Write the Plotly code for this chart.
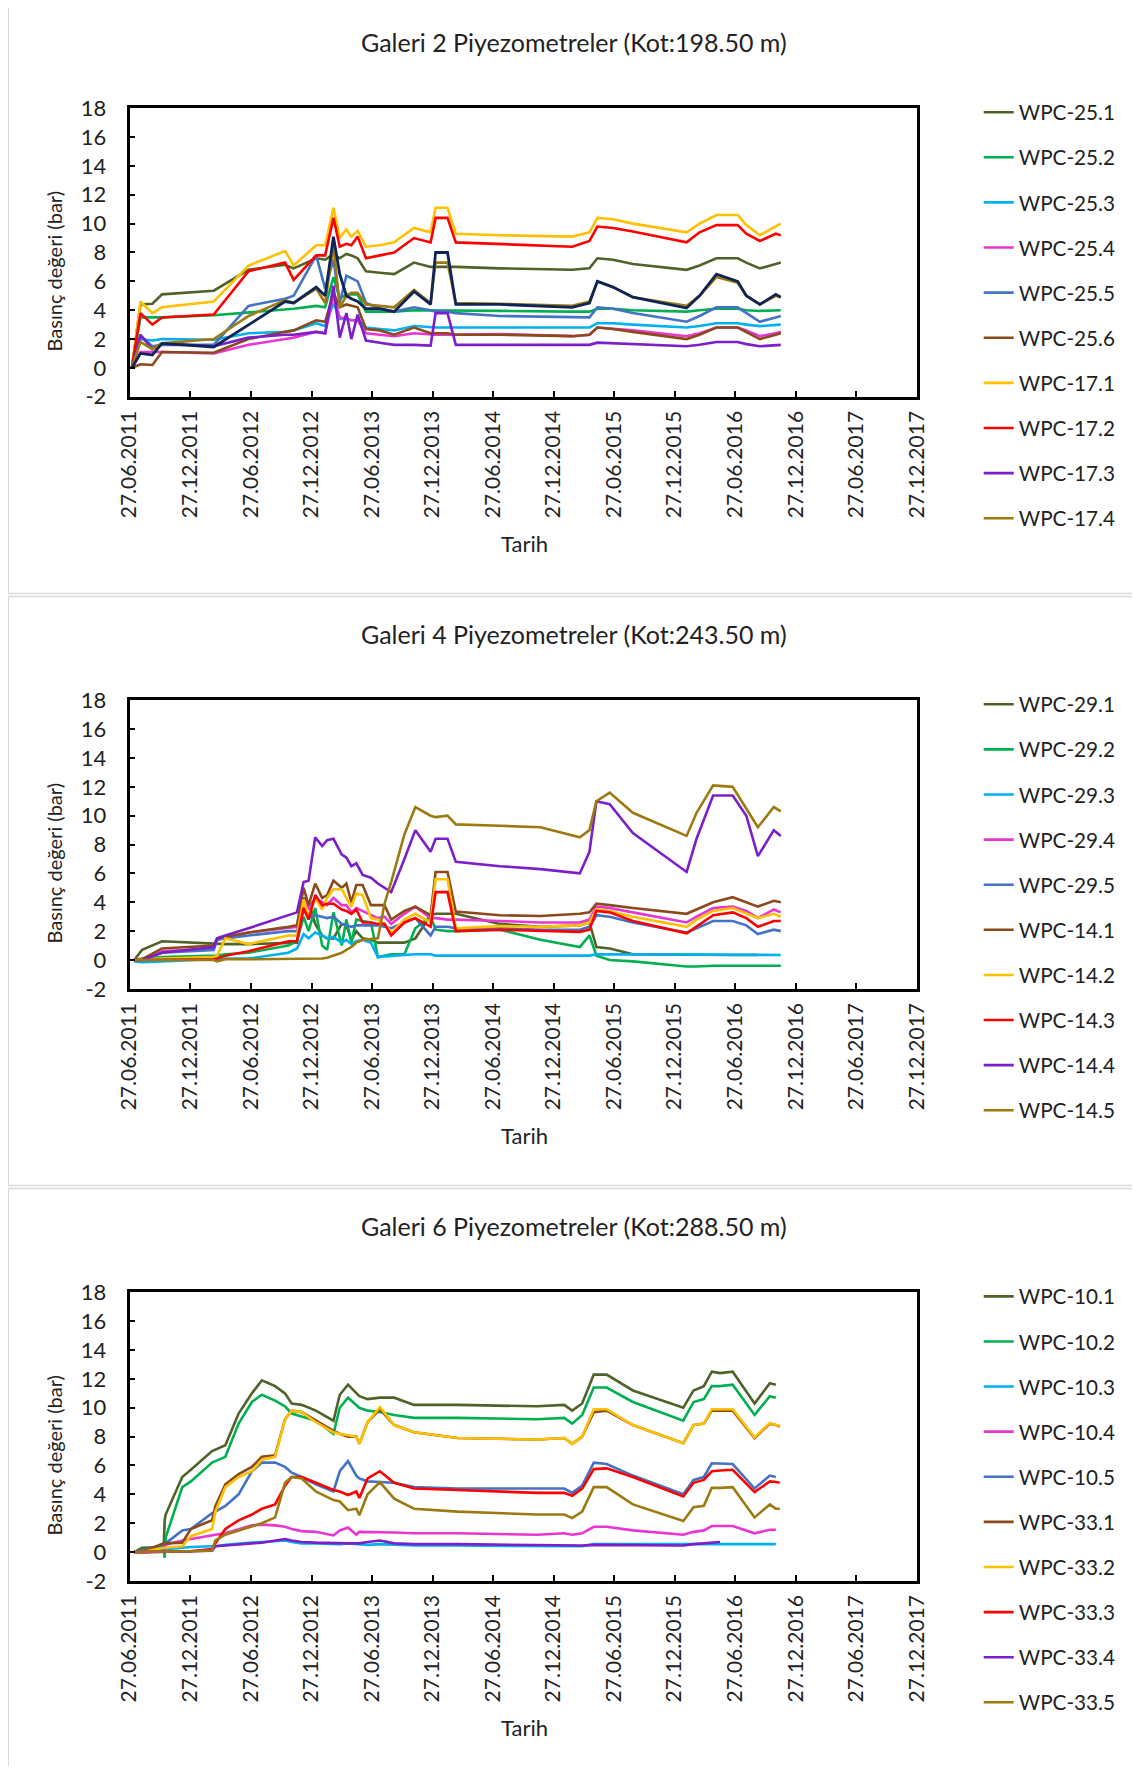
import plotly.graph_objects as go

# ---------------- data ----------------
TICK_DATES = ["2011-06-27", "2011-12-27", "2012-06-27", "2012-12-27", "2013-06-27", "2013-12-27",
              "2014-06-27", "2014-12-27", "2015-06-27", "2015-12-27", "2016-06-27", "2016-12-27",
              "2017-06-27", "2017-12-27"]
TICK_TEXT = ["27.06.2011", "27.12.2011", "27.06.2012", "27.12.2012", "27.06.2013", "27.12.2013",
             "27.06.2014", "27.12.2014", "27.06.2015", "27.12.2015", "27.06.2016", "27.12.2016",
             "27.06.2017", "27.12.2017"]
Y_TICKS = [-2, 0, 2, 4, 6, 8, 10, 12, 14, 16, 18]
Y_TICK_TEXT = ["-2", "0", "2", "4", "6", "8", "10", "12", "14", "16", "18"]

# Galeri 2
G2_DATES = ["2011-07-04", "2011-07-30", "2011-09-04", "2011-10-03", "2012-03-07", "2012-06-20",
            "2012-10-08", "2012-11-03", "2013-01-10", "2013-02-06", "2013-03-03", "2013-03-22",
            "2013-04-11", "2013-04-26", "2013-05-15", "2013-06-09", "2013-07-21", "2013-09-02",
            "2013-11-01", "2013-12-21", "2014-01-05", "2014-02-10", "2014-03-07", "2014-07-18",
            "2015-02-21", "2015-04-14", "2015-05-08", "2015-06-24", "2015-08-23", "2016-02-01",
            "2016-03-11", "2016-05-01", "2016-07-04", "2016-07-30", "2016-09-09", "2016-10-27",
            "2016-11-11"]
WPC_25_1 = [0, 4.4, 4.45, 5.1, 5.35, 6.8, 7.15, 6.9, 7.6, 7.5, 7.9, 7.6, 7.9, 7.8, 7.6, 6.7, 6.6, 6.5, 7.3,
            7.0, 7.0, 7.0, 7.0, 6.9, 6.8, 6.9, 7.6, 7.5, 7.2, 6.8, 7.1, 7.6, 7.6, 7.3, 6.9, 7.2, 7.3]
WPC_25_2 = [0, 3.5, 3.5, 3.5, 3.65, 3.85, 4.1, 4.1, 4.3, 4.2, 6.3, 4.8, 5.1, 5.1, 5.1, 3.9, 3.9, 3.9, 4.0,
            4.0, 4.0, 4.0, 4.0, 3.95, 3.9, 3.9, 4.1, 4.1, 4.0, 3.9, 4.0, 4.1, 4.1, 4.0, 3.95, 4.0, 4.0]
WPC_25_3 = [0, 2.0, 1.9, 2.0, 1.95, 2.4, 2.5, 2.6, 3.1, 2.9, 4.5, 3.4, 3.4, 3.3, 3.3, 2.8, 2.7, 2.6, 2.9,
            2.8, 2.8, 2.8, 2.8, 2.85, 2.8, 2.8, 3.1, 3.1, 3.0, 2.8, 2.9, 3.1, 3.1, 3.0, 2.9, 3.0, 3.0]
WPC_25_4 = [0, 1.1, 1.1, 1.1, 1.0, 1.6, 2.0, 2.1, 2.5, 2.4, 5.0, 3.5, 3.4, 3.3, 3.3, 2.4, 2.3, 2.2, 2.4,
            2.3, 2.3, 2.3, 2.3, 2.35, 2.2, 2.3, 2.8, 2.7, 2.6, 2.2, 2.4, 2.8, 2.8, 2.6, 2.2, 2.4, 2.5]
WPC_25_5 = [0, 2.2, 1.5, 1.6, 1.6, 4.3, 4.8, 5.0, 7.8, 5.5, 7.5, 4.5, 6.4, 6.2, 6.0, 4.5, 4.1, 3.9, 4.2,
            4.0, 3.9, 3.9, 3.8, 3.6, 3.5, 3.5, 4.2, 4.1, 3.8, 3.2, 3.6, 4.2, 4.2, 3.8, 3.2, 3.5, 3.6]
WPC_25_6 = [0, 0.25, 0.2, 1.1, 1.05, 2.0, 2.5, 2.6, 3.3, 3.2, 5.2, 4.2, 4.4, 4.3, 4.2, 2.7, 2.6, 2.3, 2.8,
            2.4, 2.4, 2.4, 2.3, 2.3, 2.2, 2.3, 2.8, 2.7, 2.5, 2.0, 2.3, 2.8, 2.8, 2.5, 2.0, 2.3, 2.4]
WPC_17_1 = [0, 4.6, 3.8, 4.2, 4.6, 7.1, 8.1, 7.1, 8.5, 8.5, 11.1, 9.0, 9.6, 9.1, 9.5, 8.4, 8.5, 8.7, 9.7,
            9.4, 11.1, 11.1, 9.3, 9.2, 9.1, 9.4, 10.4, 10.3, 10.0, 9.4, 10.0, 10.6, 10.6, 9.9, 9.2, 9.8, 10.0]
WPC_17_2 = [0, 3.8, 3.0, 3.5, 3.7, 6.7, 7.3, 6.1, 7.8, 7.8, 10.4, 8.4, 8.6, 8.5, 9.1, 7.6, 7.8, 8.0, 9.0,
            8.7, 10.4, 10.4, 8.7, 8.6, 8.4, 8.8, 9.8, 9.7, 9.45, 8.7, 9.4, 9.9, 9.9, 9.3, 8.8, 9.3, 9.2]
WPC_17_3 = [0, 2.3, 1.3, 1.7, 1.5, 2.1, 2.3, 2.3, 2.5, 2.4, 5.7, 2.1, 3.8, 2.0, 3.7, 1.9, 1.75, 1.6, 1.6,
            1.55, 3.8, 3.8, 1.6, 1.6, 1.55, 1.6, 1.75, 1.7, 1.65, 1.5, 1.6, 1.8, 1.8, 1.65, 1.5, 1.6, 1.6]
WPC_17_4 = [0, 1.8, 1.3, 1.7, 2.0, 3.6, 4.7, 4.5, 5.5, 4.5, 8.5, 4.2, 5.0, 5.2, 5.2, 4.4, 4.3, 4.2, 5.4,
            4.5, 7.3, 7.3, 4.5, 4.45, 4.3, 4.6, 6.0, 5.6, 4.9, 4.3, 5.0, 6.3, 5.9, 5.0, 4.4, 5.0, 4.9]
G2_UNLABELED = [0, 1.0, 0.9, 1.7, 1.45, 3.0, 4.6, 4.5, 5.6, 5.0, 9.1, 6.5, 5.0, 4.8, 4.6, 4.1, 4.1, 3.9, 5.3,
                4.4, 8.0, 8.0, 4.4, 4.4, 4.2, 4.5, 6.0, 5.6, 4.9, 4.15, 5.0, 6.5, 6.0, 5.0, 4.4, 5.1, 4.9]

# Galeri 4
G4_DATES = ["2011-07-11", "2011-08-04", "2011-10-03", "2012-03-07", "2012-03-17", "2012-04-11",
            "2012-06-20", "2012-10-18", "2012-11-13", "2012-12-03", "2012-12-18", "2013-01-07",
            "2013-01-28", "2013-02-12", "2013-03-03", "2013-03-28", "2013-04-11", "2013-04-26",
            "2013-05-11", "2013-05-30", "2013-06-24", "2013-07-15", "2013-08-04", "2013-08-24",
            "2013-10-03", "2013-11-05", "2013-12-21", "2014-01-05", "2014-02-10", "2014-03-07",
            "2014-07-18", "2014-11-17", "2015-03-16", "2015-04-14", "2015-05-05", "2015-06-14",
            "2015-08-23", "2016-02-01", "2016-03-02", "2016-04-21", "2016-06-19", "2016-07-30",
            "2016-09-03", "2016-10-21", "2016-11-11"]
WPC_29_1 = [0, 0.7, 1.3, 1.1, 1.1, 1.1, 1.1, 1.2, 1.2, 4.3, 4.0, 2.5, 1.7, 1.5, 1.5, 2.5, 2.4, 1.4, 2.0,
            1.5, 1.4, 1.2, 1.2, 1.2, 1.2, 1.5, 3.1, 3.2, 3.2, 3.2, 2.5, 2.3, 2.4, 2.6, 0.9, 0.8, 0.4,
            0.35, 0.35, 0.35, 0.35, 0.35, 0.35, None, None]
WPC_29_2 = [0, 0.1, 0.2, 0.3, 0.3, 0.4, 0.5, 1.0, 1.3, 3.0, 2.0, 3.6, 1.0, 0.7, 3.3, 1.0, 2.8, 1.2, 2.8,
            2.7, 2.6, 0.2, 0.3, 0.4, 0.4, 2.2, 3.0, 2.1, 2.0, 2.0, 2.1, 1.4, 0.9, 1.7, 0.3, 0.0, -0.1,
            -0.45, -0.45, -0.4, -0.4, -0.4, -0.4, -0.4, -0.4]
WPC_29_3 = [-0.1, -0.15, -0.1, 0.1, 0.1, 0.1, 0.1, 0.5, 0.8, 1.8, 1.5, 1.9, 1.7, 1.5, 1.6, 1.2, 1.4, 1.1,
            1.3, 1.4, 1.2, 0.2, 0.25, 0.3, 0.35, 0.4, 0.4, 0.3, 0.3, 0.3, 0.3, 0.3, 0.3, 0.3, 0.4, 0.4,
            0.35, 0.35, 0.35, 0.35, 0.35, 0.35, 0.35, 0.35, 0.35]
WPC_29_4 = [0, 0.05, 0.6, 0.8, 1.4, 1.5, 1.9, 2.2, 2.3, 4.2, 3.6, 4.3, 4.0, 3.8, 4.3, 3.8, 3.8, 3.3, 3.6,
            3.4, 3.1, 2.9, 3.0, 2.5, 3.2, 3.7, 2.9, 2.9, 2.8, 2.8, 2.7, 2.6, 2.6, 2.8, 3.7, 3.6, 3.3,
            2.6, 3.0, 3.6, 3.7, 3.4, 2.9, 3.5, 3.3]
WPC_29_5 = [0, 0.05, 0.5, 0.7, 1.4, 1.5, 1.7, 2.0, 2.0, 3.5, 2.9, 3.1, 3.0, 2.9, 3.0, 2.5, 2.4, 2.3, 2.4,
            2.4, 2.4, 2.4, 2.3, 2.2, 2.6, 2.9, 1.7, 2.3, 2.3, 2.2, 2.2, 2.1, 2.1, 2.3, 3.1, 3.0, 2.6,
            1.9, 2.2, 2.7, 2.7, 2.4, 1.8, 2.1, 2.0]
WPC_14_1 = [0, 0.05, 0.8, 1.0, 1.5, 1.6, 1.9, 2.3, 2.4, 5.0, 3.8, 5.3, 4.3, 4.5, 5.5, 5.0, 5.3, 4.0, 5.2,
            5.2, 3.8, 3.8, 3.8, 2.8, 3.4, 3.7, 3.1, 6.1, 6.1, 3.35, 3.1, 3.05, 3.2, 3.3, 3.9, 3.8, 3.6,
            3.2, 3.5, 4.0, 4.35, 4.0, 3.7, 4.1, 4.0]
WPC_14_2 = [0, 0.05, 0.1, 0.2, 0.3, 1.5, 1.1, 1.7, 1.7, 4.2, 3.0, 4.3, 3.5, 4.3, 4.9, 4.9, 4.3, 3.7, 4.6,
            4.5, 2.9, 2.8, 2.5, 1.9, 2.8, 3.2, 2.6, 5.6, 5.6, 2.2, 2.35, 2.3, 2.4, 2.6, 3.5, 3.4, 3.0,
            2.3, 2.8, 3.4, 3.6, 3.2, 2.9, 3.2, 3.0]
WPC_14_3 = [0, 0.0, 0.0, 0.05, 0.1, 0.3, 0.6, 1.3, 1.3, 3.6, 2.8, 4.5, 3.8, 3.9, 3.9, 3.5, 3.4, 3.2, 3.5,
            2.6, 2.6, 2.5, 2.5, 1.7, 2.6, 2.9, 2.3, 4.7, 4.7, 2.0, 2.1, 2.0, 1.95, 2.1, 3.4, 3.3, 2.7,
            1.85, 2.3, 3.1, 3.3, 2.9, 2.3, 2.7, 2.7]
WPC_14_4 = [0, 0.0, 0.5, 0.9, 1.5, 1.7, 2.2, 3.1, 3.3, 5.4, 5.5, 8.5, 7.9, 8.3, 8.4, 7.3, 7.1, 6.5, 6.7,
            5.9, 5.7, 5.3, 5.0, 4.7, 7.0, 9.0, 7.5, 8.4, 8.4, 6.8, 6.5, 6.3, 6.0, 7.5, 11.0, 10.8, 8.8,
            6.1, 8.4, 11.4, 11.4, 10.0, 7.2, 9.0, 8.6]
WPC_14_5 = [0, 0, 0, 0, -0.1, 0.05, 0.05, 0.05, 0.05, 0.05, 0.05, 0.05, 0.1, 0.15, 0.3, 0.5, 0.7, 0.9, 1.2,
            1.4, 1.45, 1.5, 3.9, 5.4, 8.7, 10.6, 10.0, 9.9, 10.0, 9.4, 9.3, 9.2, 8.5, 9.0, 11.0, 11.6,
            10.2, 8.6, 10.2, 12.1, 12.0, 10.5, 9.2, 10.6, 10.3]

# Galeri 6
G6_DATES = ["2011-07-11", "2011-08-04", "2011-10-08", "2011-10-11", "2011-10-14", "2011-12-03",
            "2011-12-29", "2012-03-02", "2012-03-12", "2012-04-11", "2012-05-21", "2012-06-30",
            "2012-07-30", "2012-09-08", "2012-10-08", "2012-10-28", "2012-11-27", "2013-01-09",
            "2013-03-03", "2013-03-22", "2013-04-16", "2013-05-11", "2013-05-20", "2013-06-14",
            "2013-07-21", "2013-09-02", "2013-11-01", "2014-03-12", "2014-11-08", "2015-01-28",
            "2015-02-21", "2015-03-23", "2015-04-27", "2015-06-05", "2015-08-23", "2016-01-22",
            "2016-02-22", "2016-03-24", "2016-04-17", "2016-05-12", "2016-06-19", "2016-08-24",
            "2016-10-09", "2016-10-27", "2016-11-08"]
WPC_10_1 = [0, 0.3, 0.35, 2.2, 2.6, 5.2, 5.7, 7.0, 7.1, 7.4, 9.6, 11.0, 11.9, 11.5, 11.0, 10.3, 10.2, 9.8,
            9.1, 10.9, 11.6, 11.0, 10.8, 10.6, 10.7, 10.7, 10.2, 10.2, 10.1, 10.2, 9.8, 10.3, 12.3, 12.3,
            11.2, 10.0, 11.2, 11.5, 12.5, 12.4, 12.5, 10.3, 11.7, 11.6, None]
WPC_10_2 = [0, 0.1, 0.3, -0.4, 1.0, 4.5, 4.9, 6.2, 6.3, 6.6, 8.9, 10.4, 10.9, 10.5, 10.1, 9.6, 9.4, 9.1,
            8.2, 10.0, 10.7, 10.2, 10.0, 9.8, 9.7, 9.5, 9.3, 9.3, 9.2, 9.3, 8.9, 9.5, 11.4, 11.4, 10.4,
            9.1, 10.4, 10.6, 11.5, 11.5, 11.6, 9.5, 10.8, 10.7, None]
WPC_10_3 = [0, 0.1, 0.2, 0.2, 0.2, 0.3, 0.35, 0.4, 0.4, 0.5, 0.55, 0.65, 0.7, 0.75, 0.8, 0.7, 0.6, 0.6,
            0.55, 0.55, 0.6, 0.55, 0.55, 0.5, 0.55, 0.5, 0.45, 0.45, 0.4, 0.4, 0.4, 0.4, 0.55, 0.55, 0.55,
            0.5, 0.5, 0.5, 0.55, 0.55, 0.55, 0.5, 0.55, 0.55, None]
WPC_10_4 = [0, -0.05, 0.0, 0.0, 0.5, 0.8, 0.9, 1.2, 1.2, 1.3, 1.6, 1.85, 1.9, 1.85, 1.75, 1.6, 1.45, 1.4,
            1.15, 1.5, 1.7, 1.2, 1.4, 1.4, 1.35, 1.35, 1.3, 1.3, 1.2, 1.3, 1.2, 1.3, 1.75, 1.75, 1.5,
            1.2, 1.4, 1.5, 1.8, 1.8, 1.8, 1.3, 1.55, 1.55, None]
WPC_10_5 = [0, 0.1, 0.5, 0.6, 0.6, 1.5, 1.6, 2.7, 2.8, 3.2, 4.0, 5.6, 6.2, 6.2, 5.9, 5.5, 5.2, 4.7,
            4.2, 5.6, 6.3, 5.3, 5.1, 4.9, 4.85, 4.8, 4.5, 4.4, 4.4, 4.4, 4.1, 4.6, 6.2, 6.1, 5.3,
            4.0, 5.0, 5.2, 6.15, 6.15, 6.1, 4.4, 5.3, 5.2, None]
WPC_33_1 = [0, 0.0, 0.6, 0.6, 0.6, 0.65, 1.6, 2.2, 3.2, 4.7, 5.4, 5.9, 6.6, 6.7, 9.2, 9.8, 9.7, 9.1,
            8.4, 8.2, 8.0, 8.0, 7.5, 9.0, 9.9, 8.8, 8.3, 7.9, 7.8, 7.9, 7.5, 8.0, 9.7, 9.8, 8.8,
            7.55, 8.8, 8.9, 9.8, 9.8, 9.8, 7.9, 8.9, 8.8, 8.7]
WPC_33_2 = [0, 0.0, 0.3, 0.3, 0.3, 0.4, 1.1, 1.6, 2.8, 4.5, 5.2, 5.6, 6.4, 6.6, 9.2, 9.8, 9.7, 9.0,
            8.3, 8.2, 8.1, 8.0, 7.5, 9.0, 10.05, 8.8, 8.3, 7.9, 7.8, 7.9, 7.5, 8.0, 9.9, 9.9, 8.8,
            7.55, 8.8, 8.9, 9.9, 9.9, 9.9, 7.95, 8.95, 8.8, 8.75]
WPC_33_3 = [0, 0.0, 0.0, 0.0, 0.0, 0.05, 0.05, 0.2, 0.6, 1.6, 2.2, 2.6, 3.0, 3.3, 4.6, 5.2, 5.2, 4.8,
            4.3, 4.2, 3.95, 4.2, 3.75, 5.1, 5.6, 4.8, 4.4, 4.3, 4.1, 4.1, 3.9, 4.4, 5.75, 5.8, 5.2,
            3.85, 4.8, 5.0, 5.6, 5.65, 5.7, 4.15, 4.9, 4.85, 4.8]
WPC_33_4 = [0, 0.0, 0.0, 0.0, 0.0, 0.05, 0.05, 0.1, 0.4, 0.45, 0.5, 0.6, 0.65, 0.8, 0.9, 0.8, 0.7, 0.65,
            0.6, 0.6, 0.6, 0.6, 0.6, 0.7, 0.8, 0.6, 0.55, 0.55, 0.5, 0.45, 0.45, 0.45, 0.5, 0.5, 0.5,
            0.45, 0.55, 0.6, 0.65, 0.7, None, None, None, None, None]
WPC_33_5 = [0, 0.0, 0.0, 0.0, 0.0, 0.05, 0.05, 0.1, 0.8, 1.2, 1.5, 1.8, 2.0, 2.4, 4.8, 5.2, 5.1, 4.2,
            3.6, 3.5, 2.9, 3.0, 2.55, 4.0, 4.85, 3.7, 3.0, 2.8, 2.6, 2.6, 2.35, 2.8, 4.5, 4.5, 3.3,
            2.15, 3.1, 3.2, 4.45, 4.45, 4.5, 2.4, 3.3, 3.0, 3.0]

# ---------------- styling ----------------
COLORS = ["#4F6228", "#00B050", "#00B0F0", "#E936D2", "#4472C4",
          "#8C4A1C", "#FFC000", "#FF0000", "#7A1FC9", "#9C7A10"]
NAVY = "#0F2557"
FONT = "Lato, sans-serif"
TXT = "#222222"
PAGE_W, PAGE_H = 1140, 1774
BODY_MARGIN = 8                       # default page margin around the figure
W, H = PAGE_W - 2 * BODY_MARGIN, PAGE_H - 2 * BODY_MARGIN
# observed mapping of the photographed page (photo = offset + scale * page)
SX, SY, OX, OY = 0.9833, 0.9862, 11.0, 10.75


def fx(rx):
    # target picture pixel -> paper coordinate
    page = (rx - OX) / SX
    return (page - BODY_MARGIN) / W


def fy(ry):
    page = (ry - OY) / SY
    return 1 - (page - BODY_MARGIN) / H


panels = [
    dict(title="Galeri 2 Piyezometreler (Kot:198.50 m)", dates=G2_DATES,
         names=["WPC-25.1", "WPC-25.2", "WPC-25.3", "WPC-25.4", "WPC-25.5",
                "WPC-25.6", "WPC-17.1", "WPC-17.2", "WPC-17.3", "WPC-17.4"],
         values=[WPC_25_1, WPC_25_2, WPC_25_3, WPC_25_4, WPC_25_5,
                 WPC_25_6, WPC_17_1, WPC_17_2, WPC_17_3, WPC_17_4],
         extra=G2_UNLABELED, off=0),
    dict(title="Galeri 4 Piyezometreler (Kot:243.50 m)", dates=G4_DATES,
         names=["WPC-29.1", "WPC-29.2", "WPC-29.3", "WPC-29.4", "WPC-29.5",
                "WPC-14.1", "WPC-14.2", "WPC-14.3", "WPC-14.4", "WPC-14.5"],
         values=[WPC_29_1, WPC_29_2, WPC_29_3, WPC_29_4, WPC_29_5,
                 WPC_14_1, WPC_14_2, WPC_14_3, WPC_14_4, WPC_14_5],
         extra=None, off=593),
    dict(title="Galeri 6 Piyezometreler (Kot:288.50 m)", dates=G6_DATES,
         names=["WPC-10.1", "WPC-10.2", "WPC-10.3", "WPC-10.4", "WPC-10.5",
                "WPC-33.1", "WPC-33.2", "WPC-33.3", "WPC-33.4", "WPC-33.5"],
         values=[WPC_10_1, WPC_10_2, WPC_10_3, WPC_10_4, WPC_10_5,
                 WPC_33_1, WPC_33_2, WPC_33_3, WPC_33_4, WPC_33_5],
         extra=None, off=1186),
]

fig = go.Figure()
layout = dict(width=W, height=H, autosize=False, margin=dict(l=0, r=0, t=0, b=0, pad=0),
              paper_bgcolor="white", plot_bgcolor="white",
              font=dict(family=FONT, color=TXT), showlegend=True)
annotations = []
shapes = []
panel_rects = [(3, 591), (594, 1184), (1187, 1790)]

for i, p in enumerate(panels):
    k = "" if i == 0 else str(i + 1)
    xa, ya, lg = "x" + k, "y" + k, "legend" + k
    off = p["off"]
    for j, (name, vals) in enumerate(zip(p["names"], p["values"])):
        fig.add_trace(go.Scatter(x=p["dates"], y=vals, name=name, mode="lines",
                                 line=dict(color=COLORS[j], width=2.6),
                                 xaxis=xa, yaxis=ya, legend=lg,
                                 legendgroup=f"p{i}_{j}", connectgaps=False))
    if p["extra"] is not None:
        fig.add_trace(go.Scatter(x=p["dates"], y=p["extra"], name="", mode="lines",
                                 line=dict(color=NAVY, width=2.8), showlegend=False,
                                 xaxis=xa, yaxis=ya, legend=lg))
    top, bot = 105 + off, 394 + off
    layout["xaxis" + k] = dict(
        domain=[fx(127), fx(919)], anchor=ya, type="date",
        range=[TICK_DATES[0], TICK_DATES[-1]],
        tickmode="array", tickvals=TICK_DATES, ticktext=TICK_TEXT, tickangle=-90,
        ticks="inside", ticklen=6, tickwidth=2, tickcolor="black",
        showline=True, linecolor="black", linewidth=2.5, mirror=True,
        showgrid=False, zeroline=False, ticklabelstandoff=3,
        tickfont=dict(family=FONT, size=21, color=TXT))
    layout["yaxis" + k] = dict(
        domain=[fy(bot), fy(top)], anchor=xa, range=[-2, 18],
        tickmode="array", tickvals=Y_TICKS, ticktext=Y_TICK_TEXT,
        ticks="inside", ticklen=6, tickwidth=2, tickcolor="black",
        showline=True, linecolor="black", linewidth=2.5, mirror=True,
        showgrid=False, zeroline=False, ticklabelstandoff=16,
        tickfont=dict(family=FONT, size=22, color=TXT))
    layout[lg] = dict(x=fx(981), xanchor="left", y=fy(89 + off), yanchor="top",
                      traceorder="grouped", tracegroupgap=15.2,
                      font=dict(family=FONT, size=20.7, color=TXT),
                      bgcolor="rgba(0,0,0,0)", itemclick=False)
    annotations.append(dict(text=p["title"], x=fx(574), y=fy(38.5 + off), xref="paper", yref="paper",
                            showarrow=False, xanchor="center", yanchor="middle",
                            font=dict(family=FONT, size=25, color=TXT)))
    annotations.append(dict(text="Basınç değeri (bar)", x=fx(51.5), y=fy(268 + off), xref="paper",
                            yref="paper", showarrow=False, textangle=-90,
                            xanchor="center", yanchor="middle",
                            font=dict(family=FONT, size=20, color=TXT)))
    annotations.append(dict(text="Tarih", x=fx(524), y=fy(541 + off), xref="paper", yref="paper",
                            showarrow=False, xanchor="center", yanchor="middle",
                            font=dict(family=FONT, size=22, color=TXT)))
    r0, r1 = panel_rects[i]
    shapes.append(dict(type="rect", xref="paper", yref="paper", x0=fx(5), x1=fx(1160),
                       y0=fy(r1), y1=fy(r0), line=dict(color="#D9D9D9", width=1.5),
                       layer="below"))

layout["annotations"] = annotations
layout["shapes"] = shapes
fig.update_layout(**layout)
fig.write_html("out.html", config={"responsive": False, "displayModeBar": False})
